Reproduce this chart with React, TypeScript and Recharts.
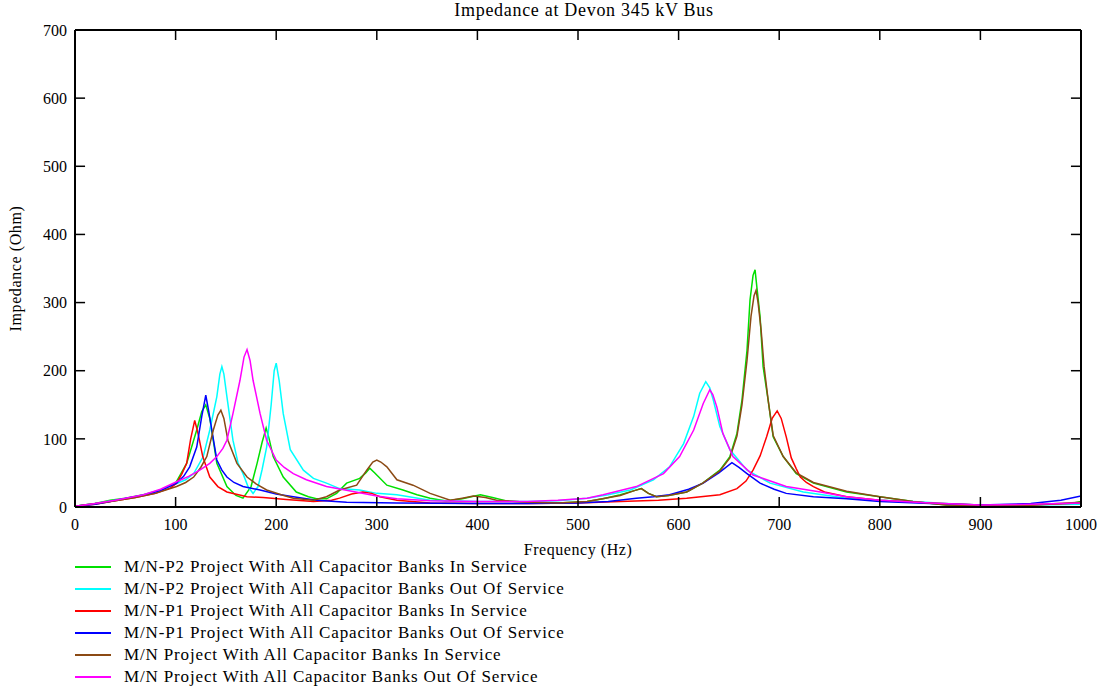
import { LineChart, Line, XAxis, YAxis, ReferenceLine } from "recharts";

// frequency (Hz), impedance (Ohm) pairs
const p2InService: [number, number][] = [
  [0, 1], [20, 5], [35, 10], [50, 13], [68, 18], [85, 25], [100, 35], [111, 64],
  [121, 113], [126, 140], [130, 150], [134, 130], [141, 64], [151, 30], [160, 17],
  [167, 13], [175, 30], [181, 64], [186, 95], [190, 116], [193, 100], [197, 74],
  [207, 44], [220, 22], [232, 15], [240, 12], [250, 12], [260, 20], [270, 35],
  [283, 42], [289, 50], [293, 57], [298, 50], [310, 32], [326, 25], [340, 18],
  [353, 13], [369, 9], [385, 12], [403, 18], [415, 14], [429, 9], [450, 7],
  [480, 6], [509, 8], [525, 12], [542, 18], [556, 24], [563, 27], [570, 20],
  [578, 15], [590, 17], [608, 22], [624, 35], [641, 54], [651, 74], [658, 108],
  [663, 157], [668, 230], [671, 304], [674, 340], [676, 348], [678, 320],
  [681, 279], [684, 206], [689, 157], [694, 103], [704, 74], [717, 49],
  [734, 35], [767, 22], [800, 15], [833, 8], [866, 3], [900, 2], [950, 3],
  [990, 5], [1000, 8],
];

const p2OutOfService: [number, number][] = [
  [0, 1], [20, 5], [40, 10], [60, 15], [80, 22], [94, 30], [110, 40], [118, 49],
  [127.5, 74], [134, 113], [141, 162], [144, 195], [146, 206], [148, 195],
  [151, 162], [157, 98], [162, 65], [167, 49], [172, 30], [177, 20], [182, 30],
  [186, 55], [190.5, 88], [195, 150], [198, 200], [200, 211], [203, 185],
  [207, 137], [214, 84], [227, 54], [237, 42], [250, 35], [263, 27], [283, 25],
  [300, 20], [320, 18], [353, 10], [400, 8], [450, 8], [480, 9], [509, 13],
  [530, 18], [552, 25], [575, 40], [591, 59], [605, 93], [615, 133], [621, 167],
  [627, 184], [631, 175], [634.5, 157], [641, 118], [651, 84], [668, 54],
  [691, 35], [724, 22], [767, 13], [800, 10], [833, 8], [866, 5], [900, 3],
  [950, 3], [1000, 4],
];

const p1InService: [number, number][] = [
  [0, 1], [20, 4], [40, 9], [60, 14], [80, 20], [95, 28], [101, 35], [106, 48],
  [111, 64], [115, 100], [119, 127], [122, 110], [127, 74], [134, 44], [142, 30],
  [151, 22], [171, 15], [187, 14], [210, 11], [237, 8], [255, 10], [263, 13],
  [275, 19], [286, 22], [295, 20], [303, 15], [320, 10], [353, 6], [400, 5],
  [450, 5], [500, 6], [542, 8], [580, 10], [608, 13], [641, 18], [658, 27],
  [667, 38], [674, 54], [681, 75], [687.5, 103], [693, 130], [698, 141],
  [702, 130], [707, 103], [712, 72], [717, 56], [721, 44], [727, 36], [734, 30],
  [745, 22], [767, 15], [800, 10], [850, 6], [900, 3], [950, 3], [1000, 6],
];

const p1OutOfService: [number, number][] = [
  [0, 1], [20, 4], [35, 8], [51, 13], [70, 18], [85, 24], [101, 35], [108, 45],
  [114, 59], [121, 88], [126, 133], [130, 164], [133, 140], [136, 113],
  [141, 69], [146, 54], [151, 44], [158, 36], [167, 30], [184, 25], [200, 19],
  [217, 15], [240, 10], [270, 7], [320, 6], [400, 5], [450, 5], [500, 6],
  [530, 8], [558, 13], [575, 15], [591, 18], [610, 26], [624.5, 35], [640, 50],
  [653, 65], [660, 58], [668, 49], [681, 35], [695, 26], [707, 20], [734, 15],
  [767, 12], [800, 8], [850, 5], [900, 3], [950, 5], [980, 10], [1000, 16],
];

const mnInService: [number, number][] = [
  [0, 1], [20, 5], [40, 9], [60, 14], [80, 20], [101, 30], [110, 36], [118, 44],
  [125, 58], [131, 74], [137.5, 113], [142, 135], [145, 142], [148, 130],
  [152, 98], [161, 64], [171, 44], [180, 34], [190.5, 25], [205, 18], [217, 13],
  [237, 10], [250, 15], [263, 25], [280, 32], [290, 54], [296, 66], [300, 69],
  [304, 66], [310, 59], [320, 40], [336, 32], [353, 20], [373, 10], [385, 13],
  [396, 16], [408, 14], [419, 10], [450, 7], [480, 6], [509, 8], [542, 17],
  [556, 24], [563, 27], [570, 20], [578, 15], [590, 17], [608, 22], [624, 35],
  [641, 53], [651, 72], [658, 104], [663, 150], [668, 215], [672, 280],
  [675, 310], [677, 318], [679, 300], [682, 260], [685, 206], [689, 157],
  [694, 105], [704, 74], [717, 50], [734, 36], [767, 23], [800, 15], [833, 8],
  [866, 3], [900, 2], [950, 3], [1000, 7],
];

const mnOutOfService: [number, number][] = [
  [0, 1], [20, 5], [40, 10], [68, 18], [85, 26], [101, 37], [113, 45], [124, 54],
  [134, 64], [141, 74], [147, 86], [151, 98], [157, 137], [164, 186], [168, 220],
  [171, 231], [174, 215], [177, 186], [184, 137], [190.5, 98], [200, 69],
  [208, 58], [217, 49], [230, 40], [250, 30], [283, 21], [300, 16], [320, 12],
  [353, 9], [400, 8], [450, 8], [480, 10], [509, 13], [525, 18], [558, 30],
  [585, 49], [601, 74], [615, 113], [624.5, 152], [631, 172], [634, 165],
  [638, 147], [644, 108], [654, 74], [674, 47], [707, 30], [741, 22], [767, 15],
  [800, 10], [850, 6], [900, 3], [950, 4], [1000, 6],
];

const xTicks = [0, 100, 200, 300, 400, 500, 600, 700, 800, 900, 1000];
const yTicks = [0, 100, 200, 300, 400, 500, 600, 700];

const series = [
  { name: "M/N-P2 Project With All Capacitor Banks In Service", color: "#00e000", points: p2InService },
  { name: "M/N-P2 Project With All Capacitor Banks Out Of Service", color: "#00ffff", points: p2OutOfService },
  { name: "M/N-P1 Project With All Capacitor Banks In Service", color: "#ff0000", points: p1InService },
  { name: "M/N-P1 Project With All Capacitor Banks Out Of Service", color: "#0000ff", points: p1OutOfService },
  { name: "M/N Project With All Capacitor Banks In Service", color: "#8b4a14", points: mnInService },
  { name: "M/N Project With All Capacitor Banks Out Of Service", color: "#ff00ff", points: mnOutOfService },
];

const font = '"Liberation Serif", "Times New Roman", serif';
const tickStyle = { fill: "#000", fontSize: 16, fontFamily: font };
const frame = { stroke: "#000", strokeWidth: 2 };
// inward tick length in data units (about 10px each way)
const X_TICK_LEN = 14.7;
const Y_TICK_LEN = 10;
const X_MAX = 1000;
const Y_MAX = 700;

export default function App() {
  return (
    <div style={{ position: "absolute", left: 0, top: 0, width: 1105, height: 690, background: "#fff", fontFamily: font }}>
      <div style={{ position: "absolute", left: 81, top: 0, width: 1006, textAlign: "center", fontSize: 18, letterSpacing: 0.7 }}>
        Impedance at Devon 345 kV Bus
      </div>
      <LineChart width={1105} height={690} margin={{ top: 29, left: 25, right: 23, bottom: 133 }}>
        <XAxis
          dataKey="f"
          type="number"
          domain={[0, X_MAX]}
          ticks={xTicks}
          interval={0}
          height={50}
          tickSize={0}
          tickMargin={12}
          tick={tickStyle}
          axisLine={frame}
          tickLine={false}
          allowDataOverflow
          label={{ value: "Frequency (Hz)", position: "insideBottom", offset: 2, fill: "#000", fontSize: 16, fontFamily: font, letterSpacing: 0.55 }}
        />
        <XAxis
          xAxisId="top"
          orientation="top"
          type="number"
          domain={[0, X_MAX]}
          ticks={xTicks}
          height={1}
          tick={false}
          axisLine={frame}
          tickLine={false}
        />
        <YAxis
          type="number"
          domain={[0, Y_MAX]}
          ticks={yTicks}
          interval={0}
          width={50}
          tickSize={0}
          tickMargin={8}
          tick={tickStyle}
          axisLine={frame}
          tickLine={false}
          allowDataOverflow
          label={{ value: "Impedance (Ohm)", angle: -90, position: "insideLeft", offset: -10, fill: "#000", fontSize: 16, fontFamily: font, letterSpacing: 0.6, style: { textAnchor: "middle" } }}
        />
        <YAxis
          yAxisId="right"
          orientation="right"
          type="number"
          domain={[0, Y_MAX]}
          ticks={yTicks}
          width={1}
          tick={false}
          axisLine={frame}
          tickLine={false}
        />
        {series.map((s) => (
          <Line
            key={s.name}
            data={s.points.map(([f, z]) => ({ f, z }))}
            dataKey="z"
            type="linear"
            stroke={s.color}
            strokeWidth={1.5}
            dot={false}
            activeDot={false}
            isAnimationActive={false}
          />
        ))}
        {xTicks.map((t) => (
          <ReferenceLine key={`xb${t}`} segment={[{ x: t, y: 0 }, { x: t, y: X_TICK_LEN }]} stroke="#000" strokeWidth={1.5} ifOverflow="visible" />
        ))}
        {xTicks.map((t) => (
          <ReferenceLine key={`xt${t}`} segment={[{ x: t, y: Y_MAX }, { x: t, y: Y_MAX - X_TICK_LEN }]} stroke="#000" strokeWidth={1.5} ifOverflow="visible" />
        ))}
        {yTicks.map((t) => (
          <ReferenceLine key={`yl${t}`} segment={[{ x: 0, y: t }, { x: Y_TICK_LEN, y: t }]} stroke="#000" strokeWidth={1.5} ifOverflow="visible" />
        ))}
        {yTicks.map((t) => (
          <ReferenceLine key={`yr${t}`} segment={[{ x: X_MAX, y: t }, { x: X_MAX - Y_TICK_LEN, y: t }]} stroke="#000" strokeWidth={1.5} ifOverflow="visible" />
        ))}
      </LineChart>
      {series.map((s, i) => (
        <div
          key={s.name}
          style={{ position: "absolute", left: 75, top: 557 + i * 22, height: 20, display: "flex", alignItems: "center", fontSize: 17, letterSpacing: 0.85 }}
        >
          <div style={{ width: 36, height: 2, background: s.color, marginRight: 13 }} />
          <span>{s.name}</span>
        </div>
      ))}
    </div>
  );
}
